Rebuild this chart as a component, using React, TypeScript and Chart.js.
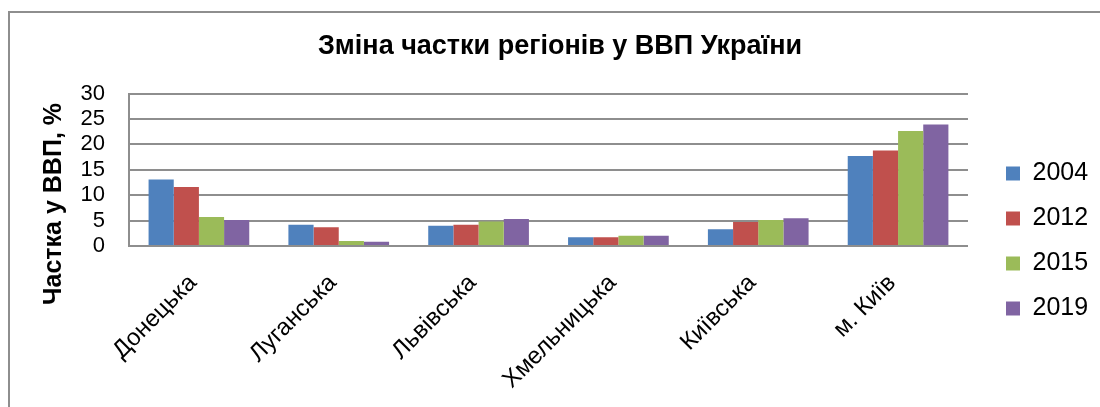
import React, { useEffect, useRef } from "react";
import { Chart, registerables } from "chart.js";

Chart.register(...registerables);

const regions = ["Донецька", "Луганська", "Львівська", "Хмельницька", "Київська", "м. Київ"];
const years = ["2004", "2012", "2015", "2019"];
const share2004 = [13.1, 4.2, 4.0, 1.7, 3.3, 17.7];
const share2012 = [11.6, 3.7, 4.2, 1.7, 4.7, 18.8];
const share2015 = [5.7, 1.0, 4.8, 2.0, 5.1, 22.6];
const share2019 = [5.1, 0.85, 5.3, 2.0, 5.45, 23.9];
const seriesColors = ["#4F81BD", "#C0504D", "#9BBB59", "#8064A2"];
const yMin = 0;
const yMax = 30;
const yStep = 5;
const chartTitle = "Зміна частки регіонів у ВВП України";
const yAxisTitle = "Частка у ВВП, %";

const FONT = "'Liberation Sans', Arial, sans-serif";
const GRID = "#8e8e8e";

const framePlugin = {
  id: "frame",
  beforeDraw(chart: any) {
    const { ctx, width, height } = chart;
    ctx.save();
    ctx.fillStyle = "#ffffff";
    ctx.fillRect(0, 0, width, height);
    ctx.strokeStyle = "#8e8e8e";
    ctx.lineWidth = 2;
    ctx.strokeRect(9, 12, 1300, 700);
    ctx.restore();
  },
};

const yTitlePlugin = {
  id: "yTitle",
  afterDraw(chart: any) {
    const { ctx } = chart;
    ctx.save();
    ctx.translate(54, 204);
    ctx.rotate(-Math.PI / 2);
    ctx.font = `bold 25px ${FONT}`;
    ctx.fillStyle = "#000";
    ctx.textAlign = "center";
    ctx.textBaseline = "middle";
    ctx.fillText(yAxisTitle, 0, 0);
    ctx.restore();
  },
};

export default function App() {
  const ref = useRef<HTMLCanvasElement>(null);

  useEffect(() => {
    if (!ref.current) return;
    const seriesValues = [share2004, share2012, share2015, share2019];
    const chart = new Chart(ref.current, {
      type: "bar",
      data: {
        labels: regions,
        datasets: years.map((y, i) => ({
          label: y,
          data: seriesValues[i],
          backgroundColor: seriesColors[i],
          borderWidth: 0,
          categoryPercentage: 0.72,
          barPercentage: 1.0,
        })),
      },
      options: {
        responsive: false,
        animation: false,
        devicePixelRatio: 1,
        layout: { padding: { left: 21.9, right: 1.9, top: 0, bottom: 0 } },
        plugins: {
          title: {
            display: true,
            text: chartTitle,
            color: "#000",
            font: { family: FONT, size: 27, weight: "bold" },
            padding: { top: 30.8, bottom: 30.3 },
          },
          legend: {
            position: "right",
            align: "start",
            title: {
              display: true,
              text: "",
              font: { family: FONT, size: 12 },
              padding: { top: 126.6, bottom: 0 },
            },
            labels: {
              boxWidth: 14,
              boxHeight: 14,
              padding: 20,
              color: "#000",
              font: { family: FONT, size: 25 },
            },
          },
          tooltip: { enabled: false },
        },
        scales: {
          x: {
            type: "category",
            grid: { display: false, drawTicks: false },
            border: { display: true, color: GRID, width: 2 },
            ticks: {
              autoSkip: false,
              minRotation: 45,
              maxRotation: 45,
              padding: 23,
              labelOffset: -6,
              color: "#000",
              font: { family: FONT, size: 24 },
            },
            afterFit(s: any) {
              s.height = 161;
            },
          },
          y: {
            type: "linear",
            min: yMin,
            max: yMax,
            grid: { color: GRID, lineWidth: 2, drawTicks: false },
            border: { display: true, color: GRID, width: 2 },
            ticks: {
              stepSize: yStep,
              autoSkip: false,
              padding: 24,
              color: "#000",
              font: { family: FONT, size: 22 },
            },
            afterFit(s: any) {
              s.width = 107.1;
            },
          },
          yGap: {
            type: "linear",
            position: "right",
            display: true,
            grid: { display: false, drawTicks: false },
            border: { display: false },
            ticks: { display: false },
            afterFit(s: any) {
              s.width = 18;
            },
          },
        },
      },
      plugins: [framePlugin, yTitlePlugin],
    });
    return () => chart.destroy();
  }, []);

  return (
    <div style={{ position: "fixed", left: 0, top: 0, width: 1100, height: 407, background: "#fff" }}>
      <canvas ref={ref} width={1100} height={407} style={{ display: "block" }} />
    </div>
  );
}
